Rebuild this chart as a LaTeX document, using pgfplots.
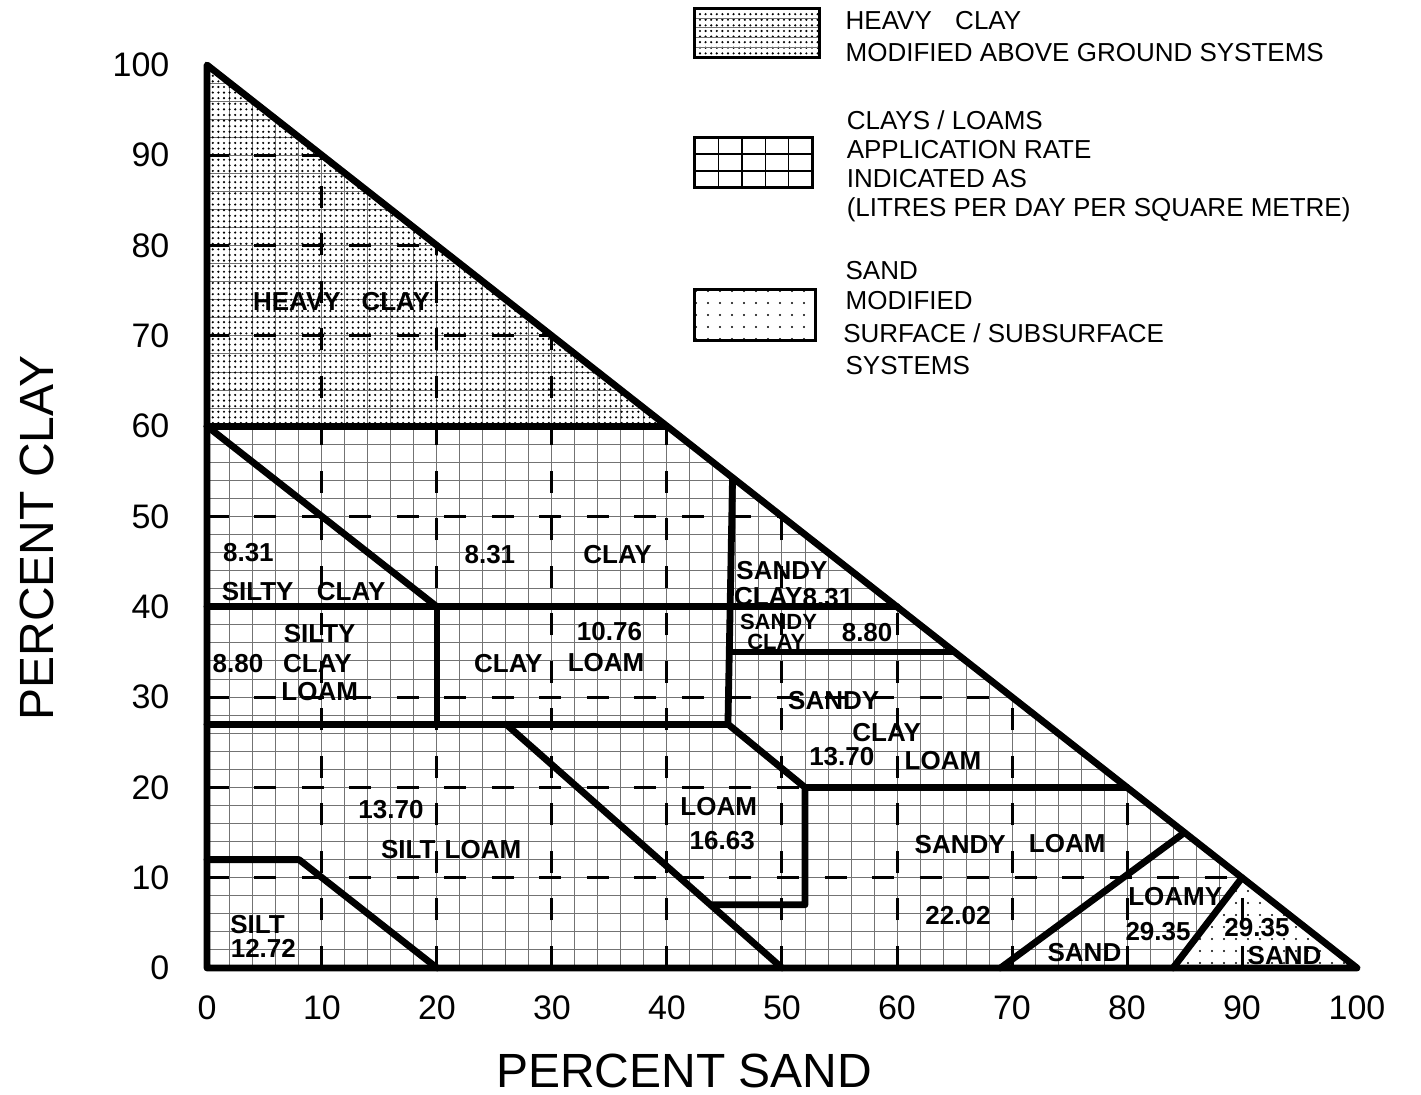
\documentclass[border=0pt]{standalone}
\usepackage{fontspec}
\setmainfont{Liberation Sans}
\usepackage{pgfplots}
\pgfplotsset{compat=1.18}
\usetikzlibrary{patterns.meta}

\tikzset{
  bnd/.style={line width=3.4pt, line cap=round, line join=round, black},
  gl/.style={line width=0.5pt, black!55},
  dl/.style={line width=1.5pt, black, dash pattern=on 11pt off 12.75pt},
  lab/.style={font=\bfseries\fontsize{13}{13}\selectfont, text height=9.3pt, text depth=0pt, inner sep=0pt},
  labs/.style={font=\bfseries\fontsize{11}{11}\selectfont, text height=7.9pt, text depth=0pt, inner sep=0pt},
  leg/.style={font=\fontsize{13}{13}\selectfont, text height=9.3pt, text depth=0pt, inner sep=0pt, anchor=west},
}
\begin{document}
\begin{tikzpicture}
\begin{axis}[
  at={(0,0)}, anchor=south west,
  scale only axis, width=575pt, height=451.5pt,
  xmin=0, xmax=100, ymin=0, ymax=100,
  clip=false,
  axis line style={draw=none},
  tick style={draw=none},
  major tick length=0pt,
  xtick={0,10,...,100},
  ytick={0,10,...,100},
  /pgf/number format/assume math mode=true,
  ticklabel style={font=\fontsize{17}{17}\selectfont},
  xticklabel style={yshift=-10.3pt},
  yticklabel style={xshift=-15.3pt},
  xlabel={PERCENT SAND},
  ylabel={PERCENT CLAY},
  every axis x label/.style={at={(axis description cs:0.415,0)}, yshift=-51.5pt, anchor=center, font=\fontsize{24}{24}\selectfont},
  every axis y label/.style={at={(axis description cs:0,0.476)}, xshift=-85pt, rotate=90, anchor=center, font=\fontsize{24}{24}\selectfont},
]
% fine grid inside the triangle
\pgfplotsinvokeforeach{2,4,...,98}{
  \draw[gl] (axis cs:#1,0) -- (axis cs:#1,{100-#1});
  \draw[gl] (axis cs:0,#1) -- (axis cs:{100-#1},#1);
}
% heavy clay: grid + dense dots
\addplot[draw=none, pattern={Dots[distance=2.8pt, radius=0.6pt]}] coordinates {(0,60) (40,60) (0,100)} -- cycle;
% sand: dots only
\addplot[draw=none, fill=white] coordinates {(84,0) (90,10) (100,0)} -- cycle;
\addplot[draw=none, pattern={Dots[distance=6pt, radius=0.6pt]}] coordinates {(84,0) (90,10) (100,0)} -- cycle;
% dashed 10-unit lines
\addplot[dl] coordinates {(10,0) (10,90)};
\addplot[dl] coordinates {(20,0) (20,80)};
\addplot[dl] coordinates {(30,0) (30,70)};
\addplot[dl] coordinates {(40,0) (40,60)};
\addplot[dl] coordinates {(50,0) (50,50)};
\addplot[dl] coordinates {(60,0) (60,40)};
\addplot[dl] coordinates {(70,0) (70,30)};
\addplot[dl] coordinates {(80,0) (80,20)};
\addplot[dl] coordinates {(90,0) (90,10)};
\addplot[dl] coordinates {(0,10) (90,10)};
\addplot[dl] coordinates {(0,20) (80,20)};
\addplot[dl] coordinates {(0,30) (70,30)};
\addplot[dl] coordinates {(0,40) (60,40)};
\addplot[dl] coordinates {(0,50) (50,50)};
\addplot[dl] coordinates {(0,60) (40,60)};
\addplot[dl] coordinates {(0,70) (30,70)};
\addplot[dl] coordinates {(0,80) (20,80)};
\addplot[dl] coordinates {(0,90) (10,90)};
% boundaries
\addplot[bnd] coordinates {(0,0) (0,100) (100,0)} -- cycle;
\addplot[bnd] coordinates {(0,60) (40,60)};
\addplot[bnd] coordinates {(0,60) (20,40)};
\addplot[bnd] coordinates {(0,40) (60,40)};
\addplot[bnd] coordinates {(20,40) (20,27)};
\addplot[bnd] coordinates {(0,27) (45.3,27)};
\addplot[bnd] coordinates {(45.7,54.3) (45.3,27) (52,20) (52,7) (44,7)};
\addplot[bnd] coordinates {(52,20) (80,20)};
\addplot[bnd] coordinates {(45.5,35) (65,35)};
\addplot[bnd] coordinates {(26,27) (50,0)};
\addplot[bnd] coordinates {(0,12) (8,12) (20,0)};
\addplot[bnd] coordinates {(69,0) (85,15)};
\addplot[bnd] coordinates {(84,0) (90,10)};
% region labels
\node[lab] at (axis cs:11.7,73.8) {HEAVY\hspace{0.8em}CLAY};
\node[lab] at (axis cs:3.6,46.0) {8.31};
\node[lab] at (axis cs:8.4,41.7) {SILTY\hspace{0.9em}CLAY};
\node[lab] at (axis cs:24.6,45.8) {8.31};
\node[lab] at (axis cs:35.7,45.8) {CLAY};
\node[lab] at (axis cs:9.8,37.1) {SILTY};
\node[lab] at (axis cs:2.7,33.7) {8.80};
\node[lab] at (axis cs:9.6,33.7) {CLAY};
\node[lab] at (axis cs:9.8,30.6) {LOAM};
\node[lab] at (axis cs:35.0,37.3) {10.76};
\node[lab] at (axis cs:26.2,33.8) {CLAY};
\node[lab] at (axis cs:34.7,33.9) {LOAM};
\node[lab] at (axis cs:50.0,44.1) {SANDY};
\node[lab] at (axis cs:48.8,41.2) {CLAY};
\node[lab] at (axis cs:54.0,41.1) {8.31};
\node[labs] at (axis cs:49.7,38.4) {SANDY};
\node[labs] at (axis cs:49.5,36.1) {CLAY};
\node[lab] at (axis cs:57.4,37.2) {8.80};
\node[lab] at (axis cs:54.5,29.6) {SANDY};
\node[lab] at (axis cs:59.1,26.1) {CLAY};
\node[lab] at (axis cs:55.2,23.4) {13.70};
\node[lab] at (axis cs:64.0,23.0) {LOAM};
\node[lab] at (axis cs:44.5,17.9) {LOAM};
\node[lab] at (axis cs:44.8,14.2) {16.63};
\node[lab] at (axis cs:16.0,17.6) {13.70};
\node[lab] at (axis cs:17.5,13.1) {SILT};
\node[lab] at (axis cs:24.0,13.2) {LOAM};
\node[lab] at (axis cs:4.4,4.8) {SILT};
\node[lab] at (axis cs:4.9,2.2) {12.72};
\node[lab] at (axis cs:65.5,13.7) {SANDY};
\node[lab] at (axis cs:74.8,13.8) {LOAM};
\node[lab] at (axis cs:65.3,5.9) {22.02};
\node[lab] at (axis cs:84.2,8.0) {LOAMY};
\node[lab] at (axis cs:82.7,4.1) {29.35};
\node[lab] at (axis cs:76.3,1.8) {SAND};
\node[lab] at (axis cs:91.3,4.5) {29.35};
\node[lab] at (axis cs:93.7,1.4) {SAND};
% legend
\fill[pattern={Dots[distance=2.8pt, radius=0.6pt]}] (axis cs:42.43,106.3) rectangle (axis cs:53.3,100.8);
\pgfplotsinvokeforeach{105.2,104.1,103.0,101.9}{\draw[gl] (axis cs:42.43,#1) -- (axis cs:53.3,#1);}
\draw[line width=1.5pt] (axis cs:42.43,106.3) rectangle (axis cs:53.3,100.8);
\pgfplotsinvokeforeach{44.47,46.51,48.55,50.59}{\draw[line width=0.7pt] (axis cs:#1,92.0) -- (axis cs:#1,86.4);}
\pgfplotsinvokeforeach{90.13,88.27}{\draw[line width=0.7pt] (axis cs:42.43,#1) -- (axis cs:52.61,#1);}
\draw[line width=1.5pt] (axis cs:42.43,92.0) rectangle (axis cs:52.61,86.4);
\fill[pattern={Dots[distance=6pt, radius=0.6pt]}] (axis cs:42.43,75.1) rectangle (axis cs:52.87,69.5);
\draw[line width=1.5pt] (axis cs:42.43,75.1) rectangle (axis cs:52.87,69.5);
\node[leg] at (axis cs:55.5,105.0) {HEAVY\hspace{0.9em}CLAY};
\node[leg] at (axis cs:55.5,101.4) {MODIFIED ABOVE GROUND SYSTEMS};
\node[leg] at (axis cs:55.6,93.9) {CLAYS / LOAMS};
\node[leg] at (axis cs:55.6,90.7) {APPLICATION RATE};
\node[leg] at (axis cs:55.6,87.5) {INDICATED AS};
\node[leg] at (axis cs:55.6,84.3) {(LITRES PER DAY PER SQUARE METRE)};
\node[leg] at (axis cs:55.5,77.3) {SAND};
\node[leg] at (axis cs:55.5,73.9) {MODIFIED};
\node[leg] at (axis cs:55.3,70.3) {SURFACE / SUBSURFACE};
\node[leg] at (axis cs:55.5,66.8) {SYSTEMS};
\end{axis}
\pgfresetboundingbox
\path (-103.5pt,-63.5pt) rectangle (607pt,484pt);
\end{tikzpicture}
\end{document}
